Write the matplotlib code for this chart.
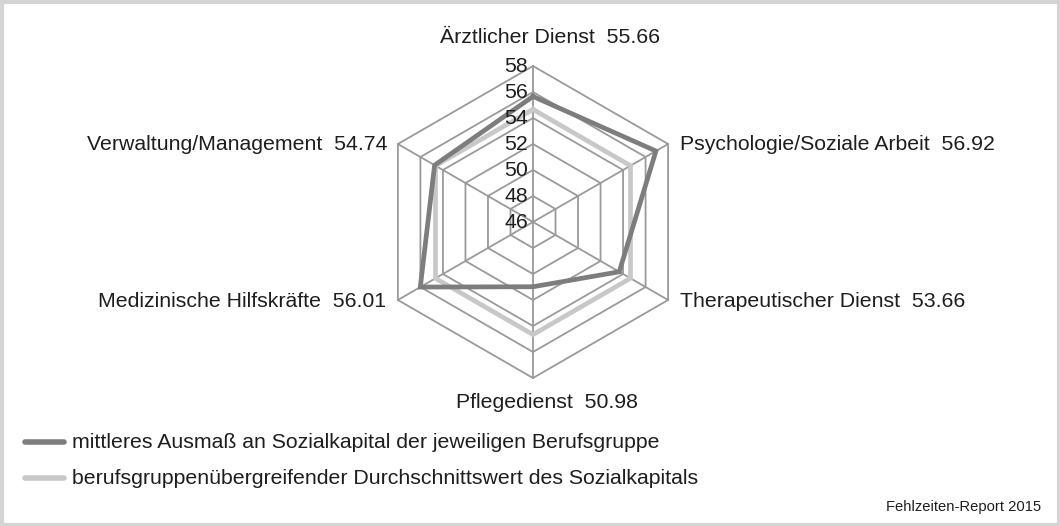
import numpy as np
import matplotlib.pyplot as plt
from matplotlib.patches import Rectangle

plt.rcParams['font.family'] = ['Liberation Sans', 'DejaVu Sans']

# data
categories = ["Ärztlicher Dienst", "Psychologie/Soziale Arbeit", "Therapeutischer Dienst",
              "Pflegedienst", "Medizinische Hilfskräfte", "Verwaltung/Management"]
group_values = [55.66, 56.92, 53.66, 50.98, 56.01, 54.74]
average_value = 54.66
rings = [48, 50, 52, 54, 56, 58]
tick_labels = [46, 48, 50, 52, 54, 56, 58]
legend_labels = ["mittleres Ausmaß an Sozialkapital der jeweiligen Berufsgruppe",
                 "berufsgruppenübergreifender Durchschnittswert des Sozialkapitals"]

r_min = 46
W, H = 1060, 526
cx, cy, scale = 533, 222, 13.0

angles = np.deg2rad([90, 30, -30, -90, -150, 150])


def to_xy(values):
    r = np.array(values) - r_min
    x = r * np.cos(angles)
    y = r * np.sin(angles)
    return np.append(x, x[0]), np.append(y, y[0])


fig = plt.figure(figsize=(W / 100, H / 100), dpi=100)
ax = fig.add_axes([0, 0, 1, 1])
ax.set_xlim(-cx / scale, (W - cx) / scale)
ax.set_ylim(-(H - cy) / scale, cy / scale)
ax.axis('off')

grid_col = '#9a9a9a'
for rv in rings:
    x, y = to_xy([rv] * 6)
    ax.plot(x, y, color=grid_col, lw=1.3, zorder=1)
x_out, y_out = to_xy([rings[-1]] * 6)
for i in range(6):
    ax.plot([0, x_out[i]], [0, y_out[i]], color=grid_col, lw=1.3, zorder=1)

x, y = to_xy([average_value] * 6)
ax.plot(x, y, color='#c8c8c8', lw=3.4, zorder=2, solid_joinstyle='miter')
x, y = to_xy(group_values)
ax.plot(x, y, color='#7d7d7d', lw=3.4, zorder=3, solid_joinstyle='miter')

fs = 15.3
txt_col = '#1e1e1e'
for t in tick_labels:
    ax.text(-0.4, t - r_min, str(t), ha='right', va='center', fontsize=fs, color=txt_col, zorder=4)

# category labels
lab_pos = [(1.3, 14.2, 'center'), (11.3, 6.0, 'left'), (11.3, -6.1, 'left'),
           (1.08, -13.9, 'center'), (-11.3, -6.1, 'right'), (-11.2, 6.0, 'right')]
for (lx, ly, ha), name, v in zip(lab_pos, categories, group_values):
    ax.text(lx, ly, f"{name}  {v:.2f}", ha=ha, va='center', fontsize=fs, color=txt_col)

# legend
leg_cols = ['#7d7d7d', '#c8c8c8']
for i, (lab, col) in enumerate(zip(legend_labels, leg_cols)):
    py = 442 + 36 * i
    fig.add_artist(plt.Line2D([25 / W, 64 / W], [1 - py / H] * 2, color=col, lw=4,
                              solid_capstyle='round'))
    fig.text(72 / W, 1 - py / H, lab, ha='left', va='center', fontsize=fs, color=txt_col)

fig.text(1041 / W, 1 - 507 / H, "Fehlzeiten-Report 2015", ha='right', va='center',
         fontsize=10.6, color=txt_col)

fig.add_artist(Rectangle((1.5 / W, 1.5 / H), (W - 3) / W, (H - 3) / H, transform=fig.transFigure,
                         fill=False, edgecolor='#d4d4d4', lw=3))

fig.savefig('out.png', dpi=100)
